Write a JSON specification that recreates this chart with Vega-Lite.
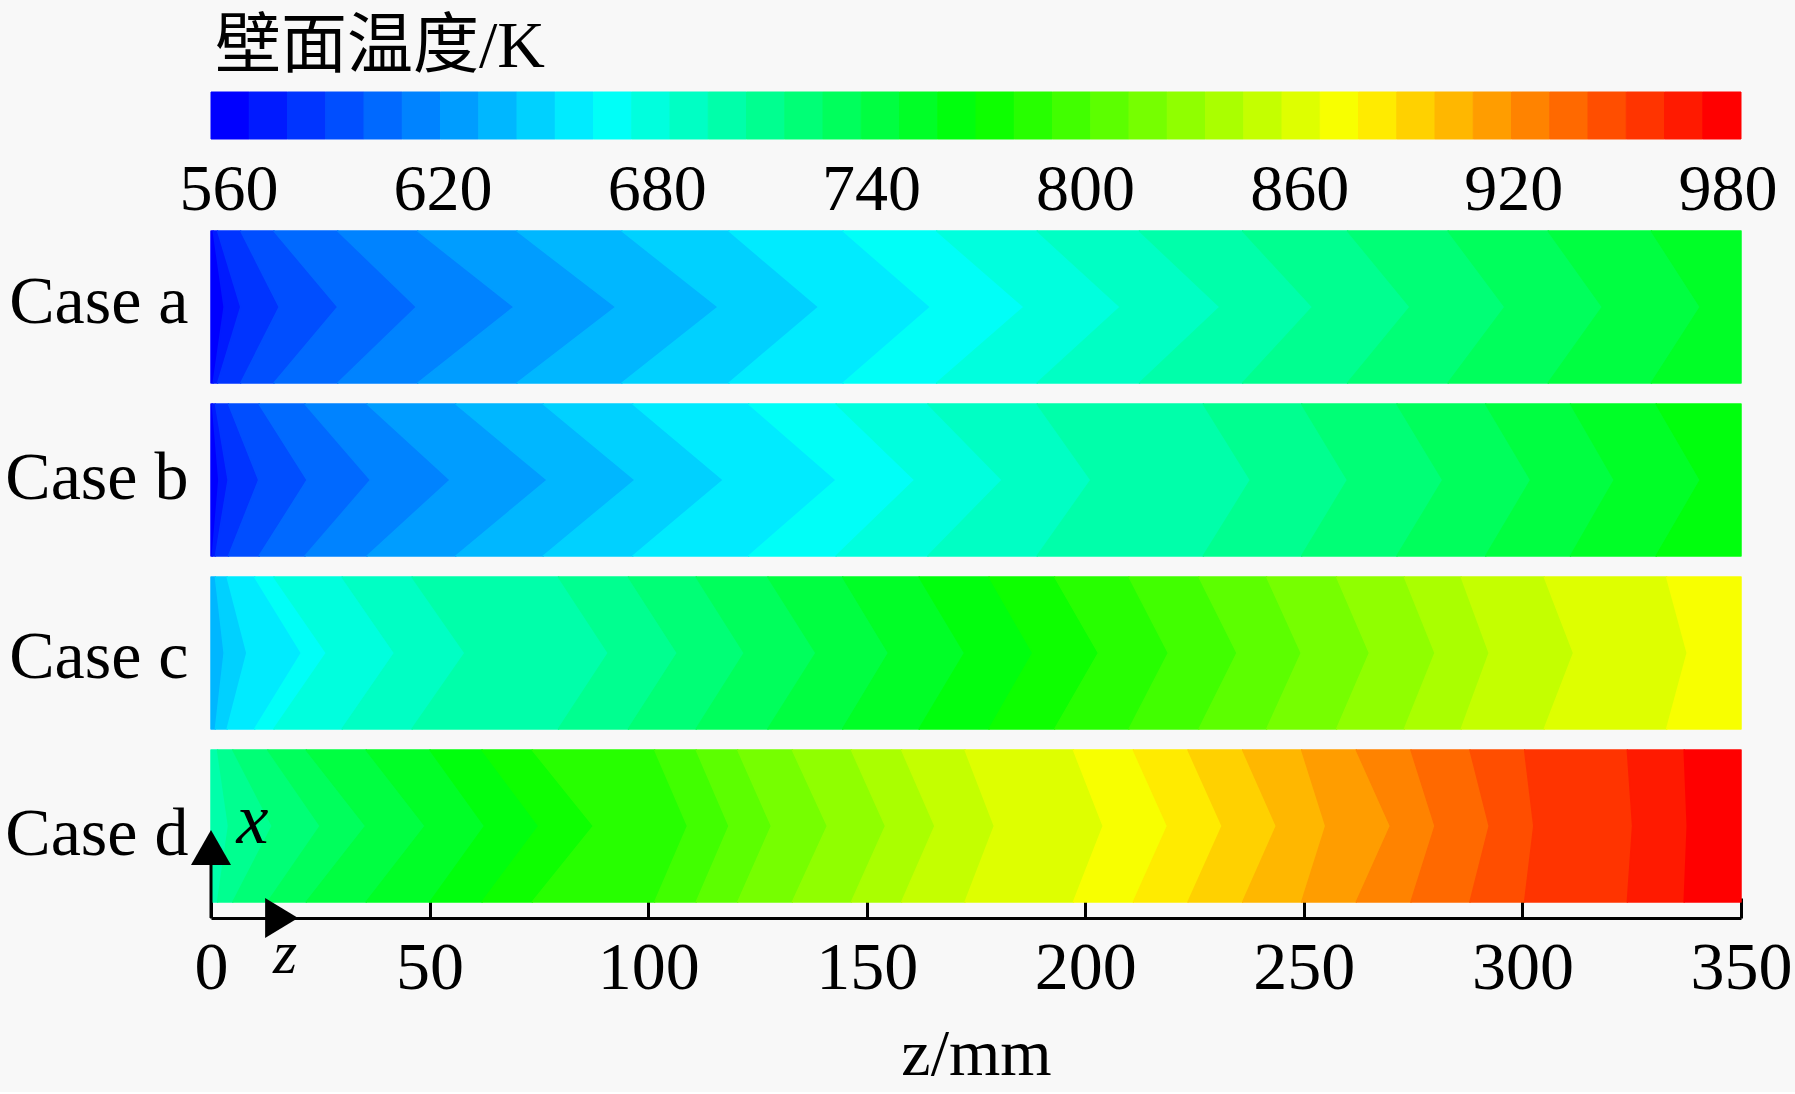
{
  "$schema": "https://vega.github.io/schema/vega-lite/v6.json",
  "background": "#f8f8f8",
  "padding": {"left": 4, "top": 13, "right": 5, "bottom": 5},
  "title": {"text": "壁面温度/K", "anchor": "start", "frame": "group", "fontSize": 66, "fontWeight": "normal", "baseline": "alphabetic", "offset": 0, "dx": 4, "dy": 41, "color": "black"},
  "config": {
    "view": {"stroke": null},
    "font": "Liberation Serif, Noto Sans CJK SC",
    "axis": {"labelFlush": false, "labelColor": "black", "titleColor": "black", "domainColor": "black", "tickColor": "black", "grid": false, "labelFontWeight": "normal", "titleFontWeight": "normal"}
  },
  "datasets": {
    "bar": [
      {"t0": 560, "t1": 570.5, "t": 565}, {"t0": 570.5, "t1": 581, "t": 576}, {"t0": 581, "t1": 591.5, "t": 586}, {"t0": 591.5, "t1": 602, "t": 597},
      {"t0": 602, "t1": 612.5, "t": 607}, {"t0": 612.5, "t1": 623, "t": 618}, {"t0": 623, "t1": 633.5, "t": 628}, {"t0": 633.5, "t1": 644, "t": 639},
      {"t0": 644, "t1": 654.5, "t": 649}, {"t0": 654.5, "t1": 665, "t": 660}, {"t0": 665, "t1": 675.5, "t": 670}, {"t0": 675.5, "t1": 686, "t": 681},
      {"t0": 686, "t1": 696.5, "t": 691}, {"t0": 696.5, "t1": 707, "t": 702}, {"t0": 707, "t1": 717.5, "t": 712}, {"t0": 717.5, "t1": 728, "t": 723},
      {"t0": 728, "t1": 738.5, "t": 733}, {"t0": 738.5, "t1": 749, "t": 744}, {"t0": 749, "t1": 759.5, "t": 754}, {"t0": 759.5, "t1": 770, "t": 765},
      {"t0": 770, "t1": 780.5, "t": 775}, {"t0": 780.5, "t1": 791, "t": 786}, {"t0": 791, "t1": 801.5, "t": 796}, {"t0": 801.5, "t1": 812, "t": 807},
      {"t0": 812, "t1": 822.5, "t": 817}, {"t0": 822.5, "t1": 833, "t": 828}, {"t0": 833, "t1": 843.5, "t": 838}, {"t0": 843.5, "t1": 854, "t": 849},
      {"t0": 854, "t1": 864.5, "t": 859}, {"t0": 864.5, "t1": 875, "t": 870}, {"t0": 875, "t1": 885.5, "t": 880}, {"t0": 885.5, "t1": 896, "t": 891},
      {"t0": 896, "t1": 906.5, "t": 901}, {"t0": 906.5, "t1": 917, "t": 912}, {"t0": 917, "t1": 927.5, "t": 922}, {"t0": 927.5, "t1": 938, "t": 933},
      {"t0": 938, "t1": 948.5, "t": 943}, {"t0": 948.5, "t1": 959, "t": 954}, {"t0": 959, "t1": 969.5, "t": 964}, {"t0": 969.5, "t1": 980, "t": 975}
    ],
    "bands": [
      {"c":"a","t":565,"y":0,"z0":0,"z1":0.5},{"c":"a","t":565,"y":0.5,"z0":0,"z1":3},{"c":"a","t":565,"y":1,"z0":0,"z1":0.5},
      {"c":"a","t":576,"y":0,"z0":0.5,"z1":1.5},{"c":"a","t":576,"y":0.5,"z0":3,"z1":6.8},{"c":"a","t":576,"y":1,"z0":0.5,"z1":1.5},
      {"c":"a","t":586,"y":0,"z0":1.5,"z1":6.8},{"c":"a","t":586,"y":0.5,"z0":6.8,"z1":15.6},{"c":"a","t":586,"y":1,"z0":1.5,"z1":6.8},
      {"c":"a","t":597,"y":0,"z0":6.8,"z1":14.4},{"c":"a","t":597,"y":0.5,"z0":15.6,"z1":29},{"c":"a","t":597,"y":1,"z0":6.8,"z1":14.4},
      {"c":"a","t":607,"y":0,"z0":14.4,"z1":29},{"c":"a","t":607,"y":0.5,"z0":29,"z1":47},{"c":"a","t":607,"y":1,"z0":14.4,"z1":29},
      {"c":"a","t":618,"y":0,"z0":29,"z1":47.3},{"c":"a","t":618,"y":0.5,"z0":47,"z1":69.3},{"c":"a","t":618,"y":1,"z0":29,"z1":47.3},
      {"c":"a","t":628,"y":0,"z0":47.3,"z1":70},{"c":"a","t":628,"y":0.5,"z0":69.3,"z1":92.6},{"c":"a","t":628,"y":1,"z0":47.3,"z1":70},
      {"c":"a","t":639,"y":0,"z0":70,"z1":94},{"c":"a","t":639,"y":0.5,"z0":92.6,"z1":116},{"c":"a","t":639,"y":1,"z0":70,"z1":94},
      {"c":"a","t":649,"y":0,"z0":94,"z1":118.5},{"c":"a","t":649,"y":0.5,"z0":116,"z1":139},{"c":"a","t":649,"y":1,"z0":94,"z1":118.5},
      {"c":"a","t":660,"y":0,"z0":118.5,"z1":144.6},{"c":"a","t":660,"y":0.5,"z0":139,"z1":164.6},{"c":"a","t":660,"y":1,"z0":118.5,"z1":144.6},
      {"c":"a","t":670,"y":0,"z0":144.6,"z1":166},{"c":"a","t":670,"y":0.5,"z0":164.6,"z1":186},{"c":"a","t":670,"y":1,"z0":144.6,"z1":166},
      {"c":"a","t":681,"y":0,"z0":166,"z1":189},{"c":"a","t":681,"y":0.5,"z0":186,"z1":208},{"c":"a","t":681,"y":1,"z0":166,"z1":189},
      {"c":"a","t":691,"y":0,"z0":189,"z1":212.4},{"c":"a","t":691,"y":0.5,"z0":208,"z1":230.8},{"c":"a","t":691,"y":1,"z0":189,"z1":212.4},
      {"c":"a","t":702,"y":0,"z0":212.4,"z1":236},{"c":"a","t":702,"y":0.5,"z0":230.8,"z1":252},{"c":"a","t":702,"y":1,"z0":212.4,"z1":236},
      {"c":"a","t":712,"y":0,"z0":236,"z1":260},{"c":"a","t":712,"y":0.5,"z0":252,"z1":274.3},{"c":"a","t":712,"y":1,"z0":236,"z1":260},
      {"c":"a","t":723,"y":0,"z0":260,"z1":283},{"c":"a","t":723,"y":0.5,"z0":274.3,"z1":296},{"c":"a","t":723,"y":1,"z0":260,"z1":283},
      {"c":"a","t":733,"y":0,"z0":283,"z1":305.9},{"c":"a","t":733,"y":0.5,"z0":296,"z1":318.3},{"c":"a","t":733,"y":1,"z0":283,"z1":305.9},
      {"c":"a","t":744,"y":0,"z0":305.9,"z1":329.5},{"c":"a","t":744,"y":0.5,"z0":318.3,"z1":340.7},{"c":"a","t":744,"y":1,"z0":305.9,"z1":329.5},
      {"c":"a","t":754,"y":0,"z0":329.5,"z1":350},{"c":"a","t":754,"y":0.5,"z0":340.7,"z1":350},{"c":"a","t":754,"y":1,"z0":329.5,"z1":350},

      {"c":"b","t":565,"y":0,"z0":0,"z1":0.3},{"c":"b","t":565,"y":0.5,"z0":0,"z1":1.8},{"c":"b","t":565,"y":1,"z0":0,"z1":0.3},
      {"c":"b","t":576,"y":0,"z0":0.3,"z1":1},{"c":"b","t":576,"y":0.5,"z0":1.8,"z1":3.9},{"c":"b","t":576,"y":1,"z0":0.3,"z1":1},
      {"c":"b","t":586,"y":0,"z0":1,"z1":4},{"c":"b","t":586,"y":0.5,"z0":3.9,"z1":10.9},{"c":"b","t":586,"y":1,"z0":1,"z1":4},
      {"c":"b","t":597,"y":0,"z0":4,"z1":11},{"c":"b","t":597,"y":0.5,"z0":10.9,"z1":22},{"c":"b","t":597,"y":1,"z0":4,"z1":11},
      {"c":"b","t":607,"y":0,"z0":11,"z1":21.5},{"c":"b","t":607,"y":0.5,"z0":22,"z1":36.5},{"c":"b","t":607,"y":1,"z0":11,"z1":21.5},
      {"c":"b","t":618,"y":0,"z0":21.5,"z1":35.7},{"c":"b","t":618,"y":0.5,"z0":36.5,"z1":54.7},{"c":"b","t":618,"y":1,"z0":21.5,"z1":35.7},
      {"c":"b","t":628,"y":0,"z0":35.7,"z1":56},{"c":"b","t":628,"y":0.5,"z0":54.7,"z1":76.9},{"c":"b","t":628,"y":1,"z0":35.7,"z1":56},
      {"c":"b","t":639,"y":0,"z0":56,"z1":76},{"c":"b","t":639,"y":0.5,"z0":76.9,"z1":97},{"c":"b","t":639,"y":1,"z0":56,"z1":76},
      {"c":"b","t":649,"y":0,"z0":76,"z1":96.5},{"c":"b","t":649,"y":0.5,"z0":97,"z1":117.2},{"c":"b","t":649,"y":1,"z0":76,"z1":96.5},
      {"c":"b","t":660,"y":0,"z0":96.5,"z1":123},{"c":"b","t":660,"y":0.5,"z0":117.2,"z1":143},{"c":"b","t":660,"y":1,"z0":96.5,"z1":123},
      {"c":"b","t":670,"y":0,"z0":123,"z1":143},{"c":"b","t":670,"y":0.5,"z0":143,"z1":161},{"c":"b","t":670,"y":1,"z0":123,"z1":143},
      {"c":"b","t":681,"y":0,"z0":143,"z1":164},{"c":"b","t":681,"y":0.5,"z0":161,"z1":181},{"c":"b","t":681,"y":1,"z0":143,"z1":164},
      {"c":"b","t":691,"y":0,"z0":164,"z1":189},{"c":"b","t":691,"y":0.5,"z0":181,"z1":201.3},{"c":"b","t":691,"y":1,"z0":164,"z1":189},
      {"c":"b","t":702,"y":0,"z0":189,"z1":227},{"c":"b","t":702,"y":0.5,"z0":201.3,"z1":237.8},{"c":"b","t":702,"y":1,"z0":189,"z1":227},
      {"c":"b","t":712,"y":0,"z0":227,"z1":249.5},{"c":"b","t":712,"y":0.5,"z0":237.8,"z1":260},{"c":"b","t":712,"y":1,"z0":227,"z1":249.5},
      {"c":"b","t":723,"y":0,"z0":249.5,"z1":271.3},{"c":"b","t":723,"y":0.5,"z0":260,"z1":281.8},{"c":"b","t":723,"y":1,"z0":249.5,"z1":271.3},
      {"c":"b","t":733,"y":0,"z0":271.3,"z1":291.6},{"c":"b","t":733,"y":0.5,"z0":281.8,"z1":301.9},{"c":"b","t":733,"y":1,"z0":271.3,"z1":291.6},
      {"c":"b","t":744,"y":0,"z0":291.6,"z1":311},{"c":"b","t":744,"y":0.5,"z0":301.9,"z1":321},{"c":"b","t":744,"y":1,"z0":291.6,"z1":311},
      {"c":"b","t":754,"y":0,"z0":311,"z1":330.6},{"c":"b","t":754,"y":0.5,"z0":321,"z1":340.7},{"c":"b","t":754,"y":1,"z0":311,"z1":330.6},
      {"c":"b","t":765,"y":0,"z0":330.6,"z1":350},{"c":"b","t":765,"y":0.5,"z0":340.7,"z1":350},{"c":"b","t":765,"y":1,"z0":330.6,"z1":350},

      {"c":"c","t":639,"y":0,"z0":0,"z1":1},{"c":"c","t":639,"y":0.5,"z0":0,"z1":3},{"c":"c","t":639,"y":1,"z0":0,"z1":1},
      {"c":"c","t":649,"y":0,"z0":1,"z1":3.7},{"c":"c","t":649,"y":0.5,"z0":3,"z1":8.2},{"c":"c","t":649,"y":1,"z0":1,"z1":3.7},
      {"c":"c","t":660,"y":0,"z0":3.7,"z1":10},{"c":"c","t":660,"y":0.5,"z0":8.2,"z1":20.7},{"c":"c","t":660,"y":1,"z0":3.7,"z1":10},
      {"c":"c","t":670,"y":0,"z0":10,"z1":14.4},{"c":"c","t":670,"y":0.5,"z0":20.7,"z1":26.4},{"c":"c","t":670,"y":1,"z0":10,"z1":14.4},
      {"c":"c","t":681,"y":0,"z0":14.4,"z1":30},{"c":"c","t":681,"y":0.5,"z0":26.4,"z1":42},{"c":"c","t":681,"y":1,"z0":14.4,"z1":30},
      {"c":"c","t":691,"y":0,"z0":30,"z1":46},{"c":"c","t":691,"y":0.5,"z0":42,"z1":58.1},{"c":"c","t":691,"y":1,"z0":30,"z1":46},
      {"c":"c","t":702,"y":0,"z0":46,"z1":79.5},{"c":"c","t":702,"y":0.5,"z0":58.1,"z1":90.9},{"c":"c","t":702,"y":1,"z0":46,"z1":79.5},
      {"c":"c","t":712,"y":0,"z0":79.5,"z1":95.5},{"c":"c","t":712,"y":0.5,"z0":90.9,"z1":106.7},{"c":"c","t":712,"y":1,"z0":79.5,"z1":95.5},
      {"c":"c","t":723,"y":0,"z0":95.5,"z1":111},{"c":"c","t":723,"y":0.5,"z0":106.7,"z1":122},{"c":"c","t":723,"y":1,"z0":95.5,"z1":111},
      {"c":"c","t":733,"y":0,"z0":111,"z1":127.4},{"c":"c","t":733,"y":0.5,"z0":122,"z1":138.4},{"c":"c","t":733,"y":1,"z0":111,"z1":127.4},
      {"c":"c","t":744,"y":0,"z0":127.4,"z1":144.5},{"c":"c","t":744,"y":0.5,"z0":138.4,"z1":155},{"c":"c","t":744,"y":1,"z0":127.4,"z1":144.5},
      {"c":"c","t":754,"y":0,"z0":144.5,"z1":162},{"c":"c","t":754,"y":0.5,"z0":155,"z1":172.4},{"c":"c","t":754,"y":1,"z0":144.5,"z1":162},
      {"c":"c","t":765,"y":0,"z0":162,"z1":178},{"c":"c","t":765,"y":0.5,"z0":172.4,"z1":188},{"c":"c","t":765,"y":1,"z0":162,"z1":178},
      {"c":"c","t":775,"y":0,"z0":178,"z1":193},{"c":"c","t":775,"y":0.5,"z0":188,"z1":203},{"c":"c","t":775,"y":1,"z0":178,"z1":193},
      {"c":"c","t":786,"y":0,"z0":193,"z1":210},{"c":"c","t":786,"y":0.5,"z0":203,"z1":219},{"c":"c","t":786,"y":1,"z0":193,"z1":210},
      {"c":"c","t":796,"y":0,"z0":210,"z1":226},{"c":"c","t":796,"y":0.5,"z0":219,"z1":234.7},{"c":"c","t":796,"y":1,"z0":210,"z1":226},
      {"c":"c","t":807,"y":0,"z0":226,"z1":241.5},{"c":"c","t":807,"y":0.5,"z0":234.7,"z1":249.4},{"c":"c","t":807,"y":1,"z0":226,"z1":241.5},
      {"c":"c","t":817,"y":0,"z0":241.5,"z1":257.5},{"c":"c","t":817,"y":0.5,"z0":249.4,"z1":265},{"c":"c","t":817,"y":1,"z0":241.5,"z1":257.5},
      {"c":"c","t":828,"y":0,"z0":257.5,"z1":273},{"c":"c","t":828,"y":0.5,"z0":265,"z1":280},{"c":"c","t":828,"y":1,"z0":257.5,"z1":273},
      {"c":"c","t":838,"y":0,"z0":273,"z1":286},{"c":"c","t":838,"y":0.5,"z0":280,"z1":292.4},{"c":"c","t":838,"y":1,"z0":273,"z1":286},
      {"c":"c","t":849,"y":0,"z0":286,"z1":305},{"c":"c","t":849,"y":0.5,"z0":292.4,"z1":311.7},{"c":"c","t":849,"y":1,"z0":286,"z1":305},
      {"c":"c","t":859,"y":0,"z0":305,"z1":333},{"c":"c","t":859,"y":0.5,"z0":311.7,"z1":337.7},{"c":"c","t":859,"y":1,"z0":305,"z1":333},
      {"c":"c","t":870,"y":0,"z0":333,"z1":350},{"c":"c","t":870,"y":0.5,"z0":337.7,"z1":350},{"c":"c","t":870,"y":1,"z0":333,"z1":350},

      {"c":"d","t":702,"y":0,"z0":0,"z1":1.5},{"c":"d","t":702,"y":0.5,"z0":0,"z1":4},{"c":"d","t":702,"y":1,"z0":0,"z1":1.5},
      {"c":"d","t":712,"y":0,"z0":1.5,"z1":5},{"c":"d","t":712,"y":0.5,"z0":4,"z1":14},{"c":"d","t":712,"y":1,"z0":1.5,"z1":5},
      {"c":"d","t":723,"y":0,"z0":5,"z1":13},{"c":"d","t":723,"y":0.5,"z0":14,"z1":25},{"c":"d","t":723,"y":1,"z0":5,"z1":13},
      {"c":"d","t":733,"y":0,"z0":13,"z1":21.8},{"c":"d","t":733,"y":0.5,"z0":25,"z1":35.4},{"c":"d","t":733,"y":1,"z0":13,"z1":21.8},
      {"c":"d","t":744,"y":0,"z0":21.8,"z1":35.5},{"c":"d","t":744,"y":0.5,"z0":35.4,"z1":49},{"c":"d","t":744,"y":1,"z0":21.8,"z1":35.5},
      {"c":"d","t":754,"y":0,"z0":35.5,"z1":50.1},{"c":"d","t":754,"y":0.5,"z0":49,"z1":62.6},{"c":"d","t":754,"y":1,"z0":35.5,"z1":50.1},
      {"c":"d","t":765,"y":0,"z0":50.1,"z1":62},{"c":"d","t":765,"y":0.5,"z0":62.6,"z1":75},{"c":"d","t":765,"y":1,"z0":50.1,"z1":62},
      {"c":"d","t":775,"y":0,"z0":62,"z1":73.5},{"c":"d","t":775,"y":0.5,"z0":75,"z1":87.5},{"c":"d","t":775,"y":1,"z0":62,"z1":73.5},
      {"c":"d","t":786,"y":0,"z0":73.5,"z1":101.5},{"c":"d","t":786,"y":0.5,"z0":87.5,"z1":109},{"c":"d","t":786,"y":1,"z0":73.5,"z1":101.5},
      {"c":"d","t":796,"y":0,"z0":101.5,"z1":111},{"c":"d","t":796,"y":0.5,"z0":109,"z1":118.5},{"c":"d","t":796,"y":1,"z0":101.5,"z1":111},
      {"c":"d","t":807,"y":0,"z0":111,"z1":120.5},{"c":"d","t":807,"y":0.5,"z0":118.5,"z1":128.2},{"c":"d","t":807,"y":1,"z0":111,"z1":120.5},
      {"c":"d","t":817,"y":0,"z0":120.5,"z1":133},{"c":"d","t":817,"y":0.5,"z0":128.2,"z1":141},{"c":"d","t":817,"y":1,"z0":120.5,"z1":133},
      {"c":"d","t":828,"y":0,"z0":133,"z1":146.5},{"c":"d","t":828,"y":0.5,"z0":141,"z1":154.3},{"c":"d","t":828,"y":1,"z0":133,"z1":146.5},
      {"c":"d","t":838,"y":0,"z0":146.5,"z1":158},{"c":"d","t":838,"y":0.5,"z0":154.3,"z1":165.6},{"c":"d","t":838,"y":1,"z0":146.5,"z1":158},
      {"c":"d","t":849,"y":0,"z0":158,"z1":172.5},{"c":"d","t":849,"y":0.5,"z0":165.6,"z1":179.2},{"c":"d","t":849,"y":1,"z0":158,"z1":172.5},
      {"c":"d","t":859,"y":0,"z0":172.5,"z1":197.3},{"c":"d","t":859,"y":0.5,"z0":179.2,"z1":204.1},{"c":"d","t":859,"y":1,"z0":172.5,"z1":197.3},
      {"c":"d","t":870,"y":0,"z0":197.3,"z1":211},{"c":"d","t":870,"y":0.5,"z0":204.1,"z1":218.8},{"c":"d","t":870,"y":1,"z0":197.3,"z1":211},
      {"c":"d","t":880,"y":0,"z0":211,"z1":223.5},{"c":"d","t":880,"y":0.5,"z0":218.8,"z1":231.3},{"c":"d","t":880,"y":1,"z0":211,"z1":223.5},
      {"c":"d","t":891,"y":0,"z0":223.5,"z1":236},{"c":"d","t":891,"y":0.5,"z0":231.3,"z1":243.7},{"c":"d","t":891,"y":1,"z0":223.5,"z1":236},
      {"c":"d","t":901,"y":0,"z0":236,"z1":249.5},{"c":"d","t":901,"y":0.5,"z0":243.7,"z1":255},{"c":"d","t":901,"y":1,"z0":236,"z1":249.5},
      {"c":"d","t":912,"y":0,"z0":249.5,"z1":262},{"c":"d","t":912,"y":0.5,"z0":255,"z1":269.8},{"c":"d","t":912,"y":1,"z0":249.5,"z1":262},
      {"c":"d","t":922,"y":0,"z0":262,"z1":274.5},{"c":"d","t":922,"y":0.5,"z0":269.8,"z1":280},{"c":"d","t":922,"y":1,"z0":262,"z1":274.5},
      {"c":"d","t":933,"y":0,"z0":274.5,"z1":288},{"c":"d","t":933,"y":0.5,"z0":280,"z1":292.4},{"c":"d","t":933,"y":1,"z0":274.5,"z1":288},
      {"c":"d","t":943,"y":0,"z0":288,"z1":300.5},{"c":"d","t":943,"y":0.5,"z0":292.4,"z1":302.6},{"c":"d","t":943,"y":1,"z0":288,"z1":300.5},
      {"c":"d","t":954,"y":0,"z0":300.5,"z1":324},{"c":"d","t":954,"y":0.5,"z0":302.6,"z1":325.2},{"c":"d","t":954,"y":1,"z0":300.5,"z1":324},
      {"c":"d","t":964,"y":0,"z0":324,"z1":337},{"c":"d","t":964,"y":0.5,"z0":325.2,"z1":337.7},{"c":"d","t":964,"y":1,"z0":324,"z1":337},
      {"c":"d","t":975,"y":0,"z0":337,"z1":350},{"c":"d","t":975,"y":0.5,"z0":337.7,"z1":350},{"c":"d","t":975,"y":1,"z0":337,"z1":350}
    ]
  },
  "spacing": 26,
  "bounds": "flush",
  "vconcat": [
    {
      "spacing": 92,
      "bounds": "flush",
      "vconcat": [
        {
          "width": 1530,
          "height": 47,
          "resolve": {"scale": {"x": "independent"}},
          "layer": [
            {
              "data": {"name": "bar"},
              "mark": {"type": "rect", "strokeWidth": 1},
              "encoding": {
                "x": {"field": "t0", "type": "quantitative", "scale": {"domain": [560, 980], "nice": false, "zero": false}, "axis": null},
                "x2": {"field": "t1"},
                "color": {"field": "t", "type": "quantitative", "legend": null, "scale": {"type": "quantize", "domain": [560, 980], "nice": false, "zero": false, "range": ["#0000ff","#001aff","#0034ff","#004eff","#0069ff","#0083ff","#009dff","#00b7ff","#00d1ff","#00ebff","#00fff8","#00ffde","#00ffc4","#00ffaa","#00ff90","#00ff76","#00ff5c","#00ff41","#00ff27","#00ff0d","#0dff00","#27ff00","#41ff00","#5cff00","#76ff00","#90ff00","#aaff00","#c4ff00","#deff00","#f8ff00","#ffeb00","#ffd100","#ffb700","#ff9d00","#ff8300","#ff6900","#ff4e00","#ff3400","#ff1a00","#ff0000"]}},
                "stroke": {"field": "t", "type": "quantitative", "legend": null, "scale": {"type": "quantize", "domain": [560, 980], "nice": false, "zero": false, "range": ["#0000ff","#001aff","#0034ff","#004eff","#0069ff","#0083ff","#009dff","#00b7ff","#00d1ff","#00ebff","#00fff8","#00ffde","#00ffc4","#00ffaa","#00ff90","#00ff76","#00ff5c","#00ff41","#00ff27","#00ff0d","#0dff00","#27ff00","#41ff00","#5cff00","#76ff00","#90ff00","#aaff00","#c4ff00","#deff00","#f8ff00","#ffeb00","#ffd100","#ffb700","#ff9d00","#ff8300","#ff6900","#ff4e00","#ff3400","#ff1a00","#ff0000"]}}
              }
            },
            {
              "data": {"name": "bar"},
              "mark": {"type": "point", "opacity": 0},
              "encoding": {
                "x": {"field": "t", "type": "quantitative", "scale": {"domain": [555.1, 983.8], "nice": false, "zero": false},
                  "axis": {"values": [560, 620, 680, 740, 800, 860, 920, 980], "orient": "bottom", "domain": false, "ticks": false, "labelFontSize": 66, "labelPadding": 18, "title": null}}
              }
            }
          ]
        },
        {
          "spacing": 21,
          "bounds": "flush",
          "vconcat": [
            {
              "width": 1530,
              "height": 152,
              "data": {"name": "bands"},
              "transform": [{"filter": "datum.c == 'a'"}],
              "mark": {"type": "area", "orient": "horizontal", "strokeWidth": 1.5, "strokeJoin": "round"},
              "encoding": {
                "y": {"field": "y", "type": "quantitative", "scale": {"domain": [0, 1], "nice": false, "zero": false},
                  "axis": {"title": "Case a", "titleAngle": 0, "titleAlign": "right", "titleBaseline": "alphabetic", "titleX": -23, "titleY": 91, "titleFontSize": 68, "labels": false, "ticks": false, "domain": false}},
                "x": {"field": "z0", "type": "quantitative", "scale": {"domain": [0, 350], "nice": false, "zero": false}, "axis": null},
                "x2": {"field": "z1"},
                "detail": {"field": "t", "type": "nominal"},
                "color": {"field": "t", "type": "quantitative", "legend": null, "scale": {"type": "quantize", "domain": [560, 980], "nice": false, "zero": false, "range": ["#0000ff","#001aff","#0034ff","#004eff","#0069ff","#0083ff","#009dff","#00b7ff","#00d1ff","#00ebff","#00fff8","#00ffde","#00ffc4","#00ffaa","#00ff90","#00ff76","#00ff5c","#00ff41","#00ff27","#00ff0d","#0dff00","#27ff00","#41ff00","#5cff00","#76ff00","#90ff00","#aaff00","#c4ff00","#deff00","#f8ff00","#ffeb00","#ffd100","#ffb700","#ff9d00","#ff8300","#ff6900","#ff4e00","#ff3400","#ff1a00","#ff0000"]}},
                "stroke": {"field": "t", "type": "quantitative", "legend": null, "scale": {"type": "quantize", "domain": [560, 980], "nice": false, "zero": false, "range": ["#0000ff","#001aff","#0034ff","#004eff","#0069ff","#0083ff","#009dff","#00b7ff","#00d1ff","#00ebff","#00fff8","#00ffde","#00ffc4","#00ffaa","#00ff90","#00ff76","#00ff5c","#00ff41","#00ff27","#00ff0d","#0dff00","#27ff00","#41ff00","#5cff00","#76ff00","#90ff00","#aaff00","#c4ff00","#deff00","#f8ff00","#ffeb00","#ffd100","#ffb700","#ff9d00","#ff8300","#ff6900","#ff4e00","#ff3400","#ff1a00","#ff0000"]}}
              }
            },
            {
              "width": 1530,
              "height": 152,
              "data": {"name": "bands"},
              "transform": [{"filter": "datum.c == 'b'"}],
              "mark": {"type": "area", "orient": "horizontal", "strokeWidth": 1.5, "strokeJoin": "round"},
              "encoding": {
                "y": {"field": "y", "type": "quantitative", "scale": {"domain": [0, 1], "nice": false, "zero": false},
                  "axis": {"title": "Case b", "titleAngle": 0, "titleAlign": "right", "titleBaseline": "alphabetic", "titleX": -23, "titleY": 94, "titleFontSize": 68, "labels": false, "ticks": false, "domain": false}},
                "x": {"field": "z0", "type": "quantitative", "scale": {"domain": [0, 350], "nice": false, "zero": false}, "axis": null},
                "x2": {"field": "z1"},
                "detail": {"field": "t", "type": "nominal"},
                "color": {"field": "t", "type": "quantitative", "legend": null, "scale": {"type": "quantize", "domain": [560, 980], "nice": false, "zero": false, "range": ["#0000ff","#001aff","#0034ff","#004eff","#0069ff","#0083ff","#009dff","#00b7ff","#00d1ff","#00ebff","#00fff8","#00ffde","#00ffc4","#00ffaa","#00ff90","#00ff76","#00ff5c","#00ff41","#00ff27","#00ff0d","#0dff00","#27ff00","#41ff00","#5cff00","#76ff00","#90ff00","#aaff00","#c4ff00","#deff00","#f8ff00","#ffeb00","#ffd100","#ffb700","#ff9d00","#ff8300","#ff6900","#ff4e00","#ff3400","#ff1a00","#ff0000"]}},
                "stroke": {"field": "t", "type": "quantitative", "legend": null, "scale": {"type": "quantize", "domain": [560, 980], "nice": false, "zero": false, "range": ["#0000ff","#001aff","#0034ff","#004eff","#0069ff","#0083ff","#009dff","#00b7ff","#00d1ff","#00ebff","#00fff8","#00ffde","#00ffc4","#00ffaa","#00ff90","#00ff76","#00ff5c","#00ff41","#00ff27","#00ff0d","#0dff00","#27ff00","#41ff00","#5cff00","#76ff00","#90ff00","#aaff00","#c4ff00","#deff00","#f8ff00","#ffeb00","#ffd100","#ffb700","#ff9d00","#ff8300","#ff6900","#ff4e00","#ff3400","#ff1a00","#ff0000"]}}
              }
            },
            {
              "width": 1530,
              "height": 152,
              "data": {"name": "bands"},
              "transform": [{"filter": "datum.c == 'c'"}],
              "mark": {"type": "area", "orient": "horizontal", "strokeWidth": 1.5, "strokeJoin": "round"},
              "encoding": {
                "y": {"field": "y", "type": "quantitative", "scale": {"domain": [0, 1], "nice": false, "zero": false},
                  "axis": {"title": "Case c", "titleAngle": 0, "titleAlign": "right", "titleBaseline": "alphabetic", "titleX": -23, "titleY": 100, "titleFontSize": 68, "labels": false, "ticks": false, "domain": false}},
                "x": {"field": "z0", "type": "quantitative", "scale": {"domain": [0, 350], "nice": false, "zero": false}, "axis": null},
                "x2": {"field": "z1"},
                "detail": {"field": "t", "type": "nominal"},
                "color": {"field": "t", "type": "quantitative", "legend": null, "scale": {"type": "quantize", "domain": [560, 980], "nice": false, "zero": false, "range": ["#0000ff","#001aff","#0034ff","#004eff","#0069ff","#0083ff","#009dff","#00b7ff","#00d1ff","#00ebff","#00fff8","#00ffde","#00ffc4","#00ffaa","#00ff90","#00ff76","#00ff5c","#00ff41","#00ff27","#00ff0d","#0dff00","#27ff00","#41ff00","#5cff00","#76ff00","#90ff00","#aaff00","#c4ff00","#deff00","#f8ff00","#ffeb00","#ffd100","#ffb700","#ff9d00","#ff8300","#ff6900","#ff4e00","#ff3400","#ff1a00","#ff0000"]}},
                "stroke": {"field": "t", "type": "quantitative", "legend": null, "scale": {"type": "quantize", "domain": [560, 980], "nice": false, "zero": false, "range": ["#0000ff","#001aff","#0034ff","#004eff","#0069ff","#0083ff","#009dff","#00b7ff","#00d1ff","#00ebff","#00fff8","#00ffde","#00ffc4","#00ffaa","#00ff90","#00ff76","#00ff5c","#00ff41","#00ff27","#00ff0d","#0dff00","#27ff00","#41ff00","#5cff00","#76ff00","#90ff00","#aaff00","#c4ff00","#deff00","#f8ff00","#ffeb00","#ffd100","#ffb700","#ff9d00","#ff8300","#ff6900","#ff4e00","#ff3400","#ff1a00","#ff0000"]}}
              }
            },
            {
              "width": 1530,
              "height": 152,
              "layer": [
                {
                  "data": {"name": "bands"},
                  "transform": [{"filter": "datum.c == 'd'"}],
                  "mark": {"type": "area", "orient": "horizontal", "strokeWidth": 1.5, "strokeJoin": "round"},
                  "encoding": {
                    "y": {"field": "y", "type": "quantitative", "scale": {"domain": [0, 1], "nice": false, "zero": false},
                      "axis": {"title": "Case d", "titleAngle": 0, "titleAlign": "right", "titleBaseline": "alphabetic", "titleX": -23, "titleY": 104, "titleFontSize": 68, "labels": false, "ticks": false, "domain": false}},
                    "x": {"field": "z0", "type": "quantitative", "scale": {"domain": [0, 350], "nice": false, "zero": false},
                      "axis": {"values": [0, 50, 100, 150, 200, 250, 300, 350], "orient": "bottom", "offset": 16, "domainWidth": 3, "tickWidth": 3, "tickSize": -20, "labelFontSize": 68, "labelPadding": 36, "title": "z/mm", "titleFontSize": 66, "titlePadding": 20}},
                    "x2": {"field": "z1"},
                    "detail": {"field": "t", "type": "nominal"},
                    "color": {"field": "t", "type": "quantitative", "legend": null, "scale": {"type": "quantize", "domain": [560, 980], "nice": false, "zero": false, "range": ["#0000ff","#001aff","#0034ff","#004eff","#0069ff","#0083ff","#009dff","#00b7ff","#00d1ff","#00ebff","#00fff8","#00ffde","#00ffc4","#00ffaa","#00ff90","#00ff76","#00ff5c","#00ff41","#00ff27","#00ff0d","#0dff00","#27ff00","#41ff00","#5cff00","#76ff00","#90ff00","#aaff00","#c4ff00","#deff00","#f8ff00","#ffeb00","#ffd100","#ffb700","#ff9d00","#ff8300","#ff6900","#ff4e00","#ff3400","#ff1a00","#ff0000"]}},
                    "stroke": {"field": "t", "type": "quantitative", "legend": null, "scale": {"type": "quantize", "domain": [560, 980], "nice": false, "zero": false, "range": ["#0000ff","#001aff","#0034ff","#004eff","#0069ff","#0083ff","#009dff","#00b7ff","#00d1ff","#00ebff","#00fff8","#00ffde","#00ffc4","#00ffaa","#00ff90","#00ff76","#00ff5c","#00ff41","#00ff27","#00ff0d","#0dff00","#27ff00","#41ff00","#5cff00","#76ff00","#90ff00","#aaff00","#c4ff00","#deff00","#f8ff00","#ffeb00","#ffd100","#ffb700","#ff9d00","#ff8300","#ff6900","#ff4e00","#ff3400","#ff1a00","#ff0000"]}}
                  }
                },
                {
                  "data": {"values": [{"axis": "x"}]},
                  "mark": {"type": "rule", "strokeWidth": 3, "color": "black"},
                  "encoding": {"x": {"datum": 0}, "y": {"datum": -0.105}, "y2": {"datum": 0.27}}
                },
                {
                  "data": {"values": [{"axis": "x"}]},
                  "mark": {"type": "point", "shape": "M0,-0.875L1,0.875L-1,0.875Z", "filled": true, "color": "black", "opacity": 1, "size": 1600, "strokeWidth": 0},
                  "encoding": {"x": {"datum": 0}, "y": {"datum": 0.359}}
                },
                {
                  "data": {"values": [{"axis": "z"}]},
                  "mark": {"type": "point", "shape": "M0.825,0L-0.825,-1L-0.825,1Z", "filled": true, "color": "black", "opacity": 1, "size": 1600, "strokeWidth": 0},
                  "encoding": {"x": {"datum": 16.15}, "y": {"datum": -0.105}}
                },
                {
                  "data": {"values": [{"axis": "x"}]},
                  "mark": {"type": "text", "fontStyle": "italic", "fontSize": 72, "align": "center", "baseline": "alphabetic", "color": "black"},
                  "encoding": {"text": {"field": "axis"}, "x": {"datum": 9.5}, "y": {"datum": 0.388}}
                },
                {
                  "data": {"values": [{"axis": "z"}]},
                  "mark": {"type": "text", "fontStyle": "italic", "fontSize": 62, "align": "center", "baseline": "alphabetic", "color": "black"},
                  "encoding": {"text": {"field": "axis"}, "x": {"datum": 16.95}, "y": {"datum": -0.467}}
                }
              ]
            }
          ]
        }
      ]
    }
  ]
}
